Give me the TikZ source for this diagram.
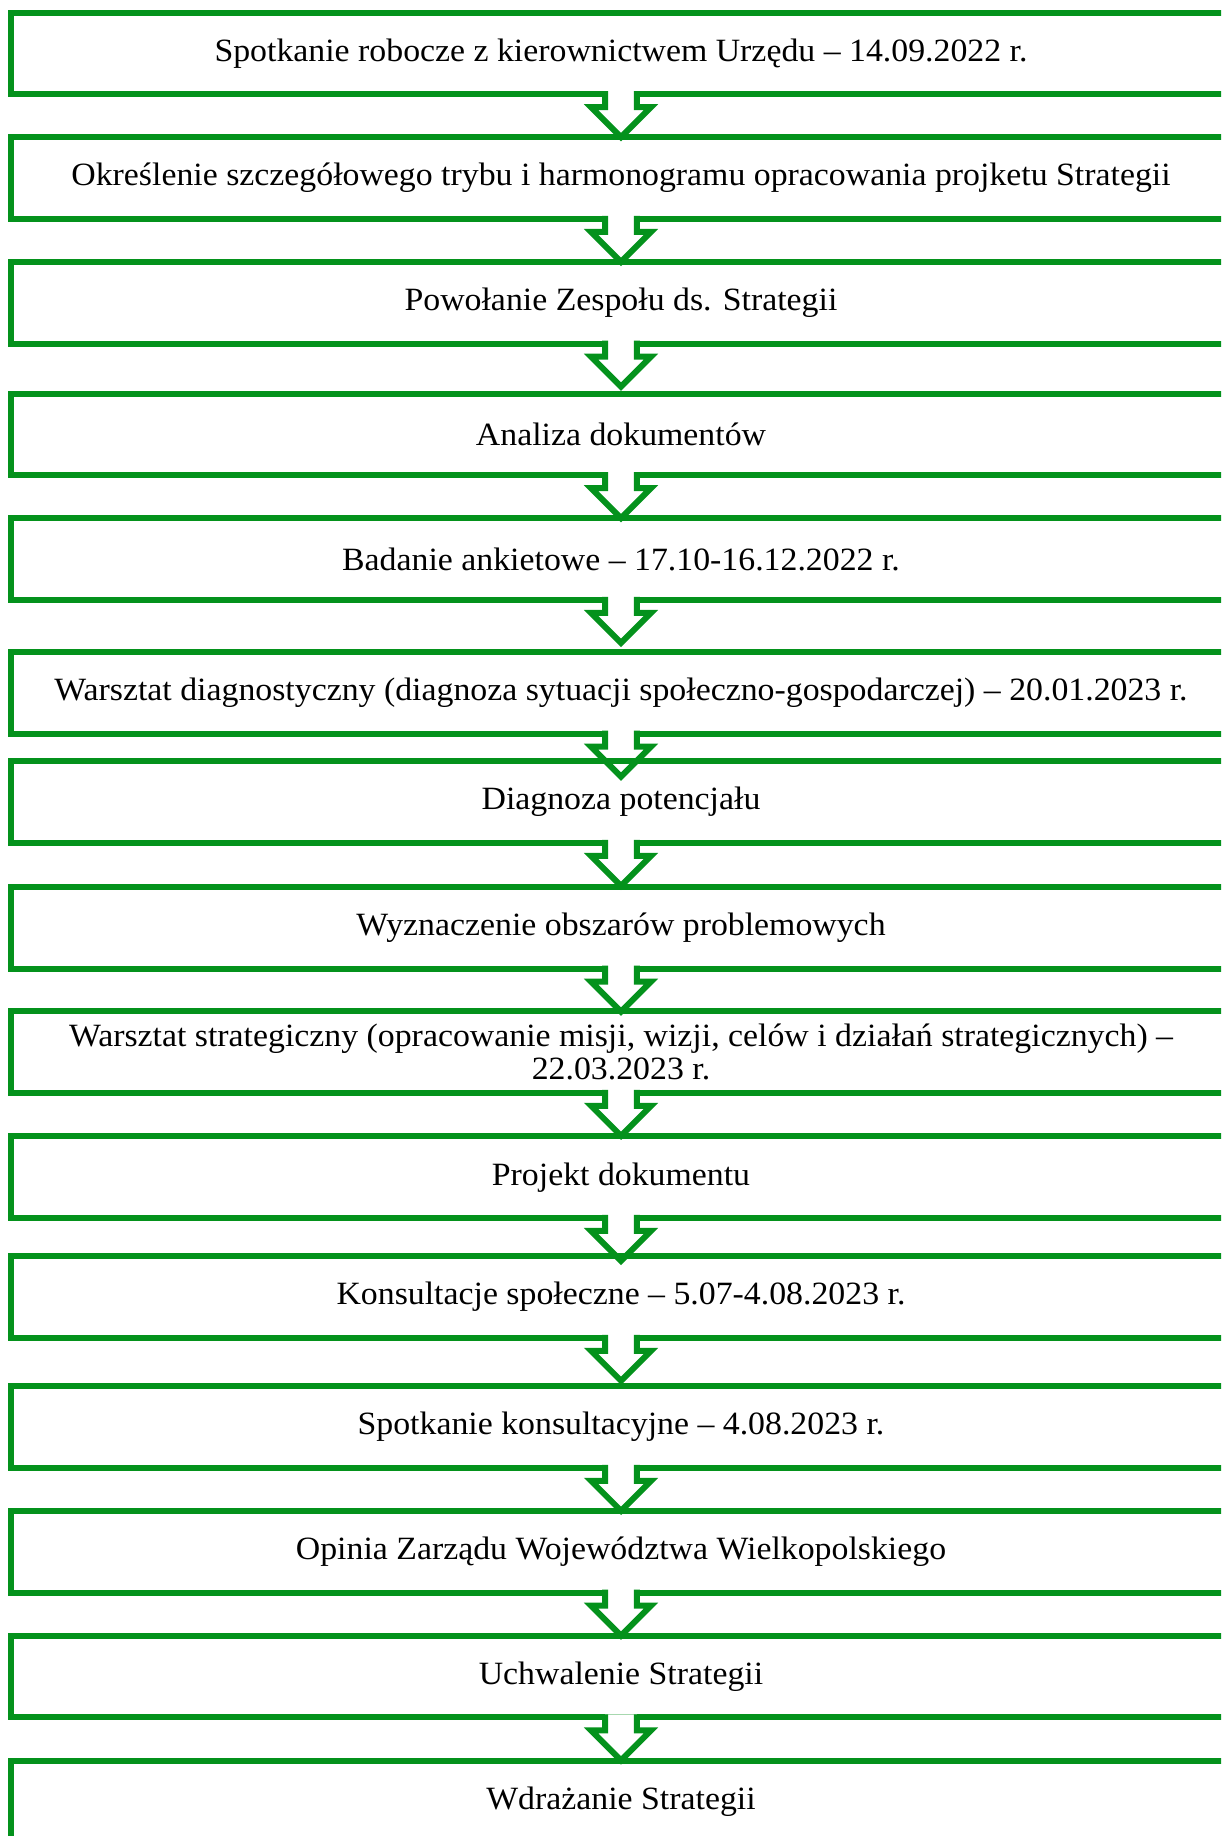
\documentclass[tikz,border=0pt]{standalone}
\usepackage{fontspec}
\setmainfont[FakeStretch=1.04]{Liberation Serif}
\usetikzlibrary{calc}

\definecolor{flowgreen}{RGB}{4,146,28}

\tikzset{
  stepbox/.style={draw=flowgreen, line width=0.12cm, minimum width=24.4cm,
    minimum height=1.63cm, inner sep=1pt, outer sep=0pt, align=center,
    font=\fontsize{18.5}{18.8}\selectfont},
  arrowline/.style={draw=flowgreen, line width=0.12cm, line join=miter},
}

% hollow block arrow hanging under a box
\newcommand{\flowarrow}[1]{%
  \fill[white] ($(#1.south)+(-15.8,-3)$) -- ($(#1.south)+(-15.8,13)$)
    -- ($(#1.south)+(-30,13)$) -- ($(#1.south)+(0,43)$)
    -- ($(#1.south)+(30,13)$) -- ($(#1.south)+(15.8,13)$)
    -- ($(#1.south)+(15.8,-3)$) -- cycle;
  \draw[arrowline] ($(#1.south)+(-15.8,-3)$) -- ($(#1.south)+(-15.8,13)$)
    -- ($(#1.south)+(-30,13)$) -- ($(#1.south)+(0,43)$)
    -- ($(#1.south)+(30,13)$) -- ($(#1.south)+(15.8,13)$)
    -- ($(#1.south)+(15.8,-3)$);
}

\begin{document}
\begin{tikzpicture}[x=0.02cm, y=-0.02cm]
  \useasboundingbox (0,0) rectangle (1221,1836);
  \clip (0,0) rectangle (1221,1836);

  % steps, top to bottom, each followed by its arrow
  \node[stepbox] (s1) at (621,53.4) {Spotkanie robocze z kierownictwem Urzędu – 14.09.2022 r.};
  \flowarrow{s1}
  \node[stepbox] (s2) at (621,178.2) {Określenie szczegółowego trybu i harmonogramu opracowania projketu Strategii};
  \flowarrow{s2}
  \node[stepbox] (s3) at (621,302.9) {Powołanie Zespołu ds. Strategii};
  \flowarrow{s3}
  \node[stepbox] (s4) at (621,434.4) {Analiza dokumentów};
  \flowarrow{s4}
  \node[stepbox] (s5) at (621,559.1) {Badanie ankietowe – 17.10-16.12.2022 r.};
  \flowarrow{s5}
  \node[stepbox] (s6) at (621,692.9) {Warsztat diagnostyczny (diagnoza sytuacji społeczno-gospodarczej) – 20.01.2023 r.};
  \flowarrow{s6}
  \node[stepbox] (s7) at (621,802.1) {Diagnoza potencjału};
  \flowarrow{s7}
  \node[stepbox] (s8) at (621,927.8) {Wyznaczenie obszarów problemowych};
  \flowarrow{s8}
  \node[stepbox] (s9) at (621,1052) {Warsztat strategiczny (opracowanie misji, wizji, celów i działań strategicznych) –\\22.03.2023 r.};
  \flowarrow{s9}
  \node[stepbox] (s10) at (621,1177.2) {Projekt dokumentu};
  \flowarrow{s10}
  \node[stepbox] (s11) at (621,1297) {Konsultacje społeczne – 5.07-4.08.2023 r.};
  \flowarrow{s11}
  \node[stepbox] (s12) at (621,1427) {Spotkanie konsultacyjne – 4.08.2023 r.};
  \flowarrow{s12}
  \node[stepbox] (s13) at (621,1551.8) {Opinia Zarządu Województwa Wielkopolskiego};
  \flowarrow{s13}
  \node[stepbox] (s14) at (621,1676.7) {Uchwalenie Strategii};
  \flowarrow{s14}
  \node[stepbox] (s15) at (621,1801.4) {Wdrażanie Strategii};
\end{tikzpicture}
\end{document}
